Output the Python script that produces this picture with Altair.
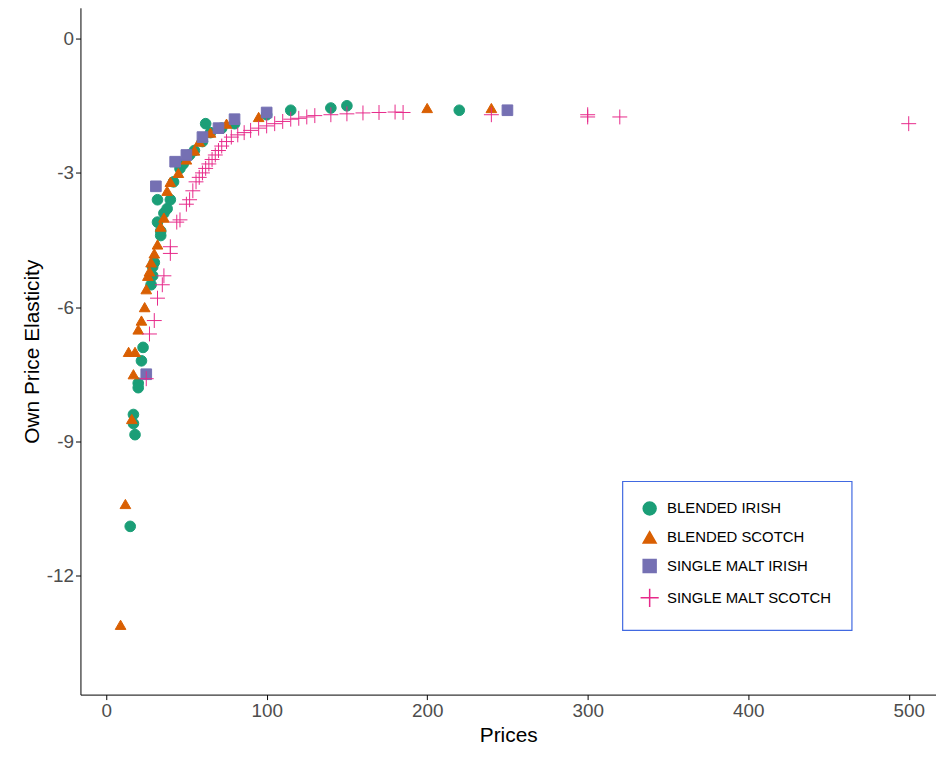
import altair as alt
import pandas as pd

blended_irish = [(15, -10.9), (17, -8.4), (17, -8.6), (18, -8.85), (20, -7.7), (20, -7.8), (22, -7.2),
                 (23, -6.9), (28, -5.5), (29, -5.3), (29, -5.1), (30, -5.0), (32, -4.1), (32, -3.6),
                 (34, -4.4), (34, -4.3), (36, -3.9), (38, -3.8), (40, -3.6), (42, -3.2), (46, -2.9),
                 (48, -2.8), (52, -2.6), (55, -2.5), (60, -2.3), (62, -1.9), (65, -2.1), (72, -2.0),
                 (80, -1.9), (100, -1.7), (115, -1.6), (140, -1.55), (150, -1.5), (220, -1.6)]
blended_scotch = [(9, -13.1), (12, -10.4), (14, -7.0), (16, -8.5), (17, -7.5), (18, -7.0), (20, -6.5),
                  (22, -6.3), (24, -6.0), (25, -5.6), (26, -5.3), (27, -5.2), (28, -5.0), (30, -4.8),
                  (32, -4.6), (34, -4.2), (36, -4.0), (38, -3.4), (40, -3.2), (45, -3.0), (50, -2.7),
                  (55, -2.5), (58, -2.3), (65, -2.1), (70, -2.0), (75, -1.9), (95, -1.75), (200, -1.55),
                  (240, -1.55)]
single_malt_irish = [(25, -7.5), (31, -3.3), (43, -2.75), (50, -2.6), (60, -2.2), (70, -2.0), (80, -1.8),
                     (100, -1.65), (250, -1.6)]
single_malt_scotch = [(25, -7.6), (27, -6.6), (30, -6.3), (32, -5.8), (35, -5.5), (36, -5.3), (40, -4.8),
                      (40, -4.65), (44, -4.1), (46, -4.05), (50, -3.7), (52, -3.6), (54, -3.4), (56, -3.2),
                      (58, -3.1), (60, -3.0), (62, -2.9), (64, -2.8), (66, -2.7), (68, -2.6), (70, -2.5),
                      (72, -2.4), (75, -2.3), (78, -2.2), (82, -2.15), (86, -2.1), (90, -2.05), (95, -2.0),
                      (100, -1.95), (105, -1.9), (110, -1.85), (115, -1.8), (120, -1.78), (125, -1.75),
                      (130, -1.72), (140, -1.7), (150, -1.68), (160, -1.66), (170, -1.65), (180, -1.64),
                      (185, -1.65), (240, -1.7), (300, -1.7), (300, -1.75), (320, -1.75), (500, -1.9)]

groups = ["BLENDED IRISH", "BLENDED SCOTCH", "SINGLE MALT IRISH", "SINGLE MALT SCOTCH"]
rows = []
for name, pts in zip(groups, [blended_irish, blended_scotch, single_malt_irish, single_malt_scotch]):
    rows += [{"type": name, "price": p, "elast": e} for p, e in pts]
df = pd.DataFrame(rows)

colors = ["#1b9e77", "#d95f02", "#7570b3", "#e7298a"]
fills = ["#1b9e77", "#d95f02", "#7570b3", "transparent"]
shapes = ["circle", "triangle-up", "square", "M-1.4,0L1.4,0M0,-1.4L0,1.4"]

legend = alt.Legend(title=None, orient="none", legendX=546, legendY=477, padding=20,
                    strokeColor="#4169e1", labelFontSize=15, labelColor="black",
                    labelFont="Liberation Sans", symbolSize=170, labelLimit=300, labelOffset=10)

chart = alt.Chart(df).mark_point(filled=False, size=115, strokeWidth=1, opacity=1).encode(
    x=alt.X("price:Q", title="Prices", scale=alt.Scale(domain=[-16, 517], nice=False, zero=False))
    .axis(values=[0, 100, 200, 300, 400, 500]),
    y=alt.Y("elast:Q", title="Own Price Elasticity", scale=alt.Scale(domain=[-14.66, 0.69], nice=False, zero=False))
    .axis(values=[0, -3, -6, -9, -12], labelExpr="replace(datum.label, '\u2212', '-')"),
    stroke=alt.Stroke("type:N", scale=alt.Scale(domain=groups, range=colors), legend=legend),
    fill=alt.Fill("type:N", scale=alt.Scale(domain=groups, range=fills), legend=legend),
    shape=alt.Shape("type:N", scale=alt.Scale(domain=groups, range=shapes), legend=legend),
).properties(
    width=862, height=692, padding={"left": 73, "top": -3, "right": 0, "bottom": 50}, autosize="none"
).configure_view(stroke=None).configure_axis(
    grid=False, domainColor="black", tickColor="black", labelFontSize=19, labelColor="#4d4d4d",
    titleFontSize=21, titleFontWeight="normal", titleColor="black", labelFont="Liberation Sans",
    titleFont="Liberation Sans", tickSize=5,
).configure_legend(rowPadding=9, strokeWidth=1.2)

chart.save("out.html", embed_options={"renderer": "svg", "actions": False})
